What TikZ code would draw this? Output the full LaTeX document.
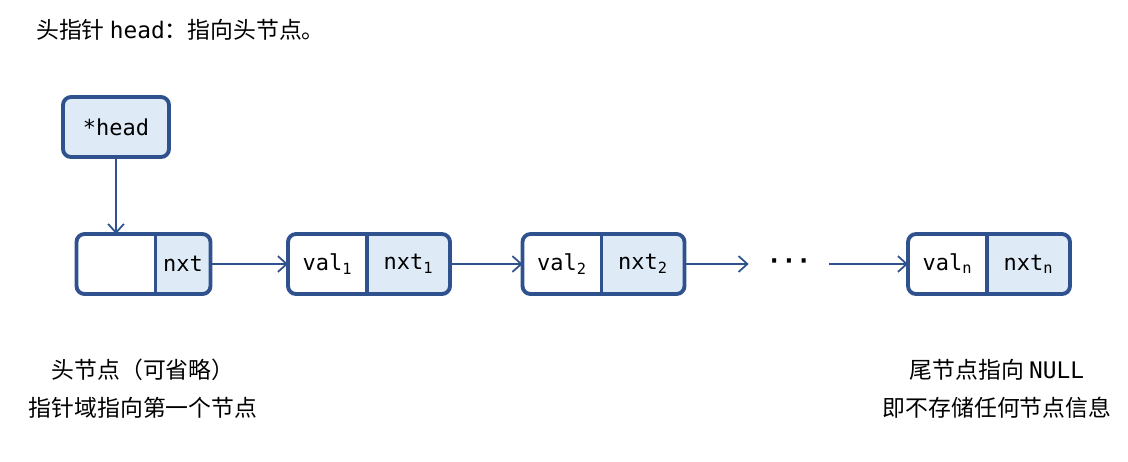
\documentclass[tikz,border=0pt]{standalone}
\usepackage{fontspec}
\setmainfont{Noto Sans CJK SC}
\setmonofont{DejaVu Sans Mono}
\usepackage{tikz}
\usetikzlibrary{positioning, arrows.meta, backgrounds}

\definecolor{boxblue}{RGB}{47,82,143}
\definecolor{cellblue}{RGB}{222,235,247}

\tikzset{
    valpart/.style={minimum width=1.58cm, minimum height=1.2cm, inner sep=0pt, outer sep=0pt,
        font=\ttfamily\fontsize{12.5}{14}\selectfont},
    nxtpart/.style={valpart, minimum width=1.66cm},
    ptrbox/.style={draw=boxblue, fill=cellblue, line width=2.2pt, rounded corners=0.16cm,
        minimum width=2.12cm, minimum height=1.2cm, inner sep=0pt,
        font=\ttfamily\fontsize{12.5}{14}\selectfont},
    link/.style={draw=boxblue, line width=1pt, -{Straight Barb[length=5pt,width=9pt]}},
    caption/.style={font=\fontsize{13}{21.6}\selectfont, align=center},
}

\begin{document}
\begin{tikzpicture}[x=0.02cm, y=-0.02cm]
    \useasboundingbox (0,0) rectangle (1128,461);

    \node[anchor=west, font=\fontsize{13}{15}\selectfont] (title) at (30,30)
        {头指针 \texttt{head}：指向头节点。};

    \node[ptrbox] (head) at (116,127) {*head};

    % list nodes: value part + next part
    \node[valpart] (vh) at (116,264) {};
    \node[nxtpart, minimum width=1.1cm, right=0pt of vh] (nh) {nxt};
    \node[valpart] (v1) at (327.5,264) {val\textsubscript{1}};
    \node[nxtpart, right=0pt of v1] (n1) {nxt\textsubscript{1}};
    \node[valpart] (v2) at (562,264) {val\textsubscript{2}};
    \node[nxtpart, right=0pt of v2] (n2) {nxt\textsubscript{2}};
    \node[valpart] (vn) at (947.5,264) {val\textsubscript{n}};
    \node[nxtpart, right=0pt of vn] (nn) {nxt\textsubscript{n}};

    \foreach \i in {h,1,2,n} {
        \begin{pgfonlayer}{background}
            \begin{scope}
                \clip[rounded corners=0.16cm] (v\i.north west) rectangle (n\i.south east);
                \fill[cellblue] (n\i.north west) rectangle (n\i.south east);
            \end{scope}
        \end{pgfonlayer}
        \draw[boxblue, line width=2.2pt, rounded corners=0.16cm] (v\i.north west) rectangle (n\i.south east);
        \draw[boxblue, line width=2.2pt] (n\i.north west) -- (n\i.south west);
    }

    \node[minimum width=1.6cm, inner sep=0pt, font=\ttfamily\bfseries\fontsize{14}{14}\selectfont]
        (dots) at (789,264) {···};

    \draw[link] (head.south) -- (vh.north);
    \draw[link] (nh.east) -- (v1.west);
    \draw[link] (n1.east) -- (v2.west);
    \draw[link] (n2.east) -- (dots.west);
    \draw[link] (dots.east) -- (vn.west);

    \node[caption] (headnote) at (143,389) {头节点（可省略）\\指针域指向第一个节点};
    \node[caption] (tailnote) at (997,389) {尾节点指向 \texttt{NULL}\\即不存储任何节点信息};
\end{tikzpicture}
\end{document}
